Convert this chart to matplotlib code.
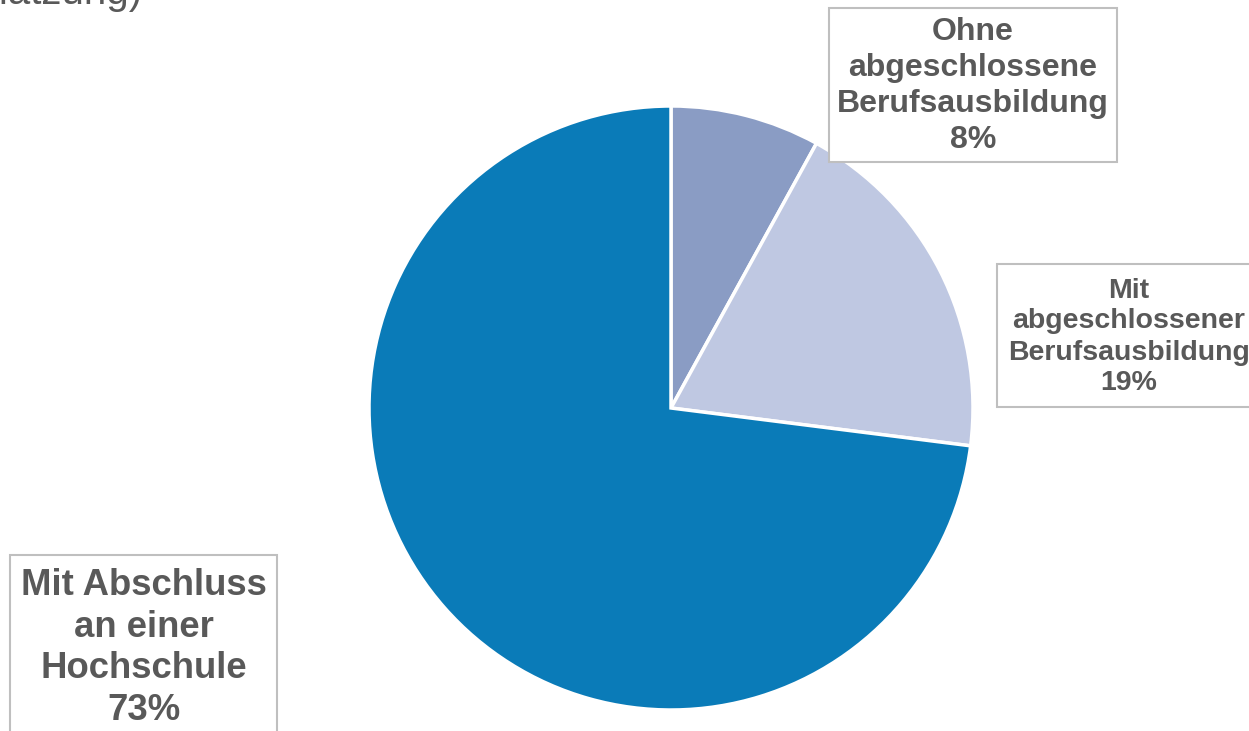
import matplotlib.pyplot as plt
from matplotlib.patches import Rectangle

plt.rcParams['font.family'] = ['Liberation Sans', 'DejaVu Sans']

# Beschaeftigte nach Berufsabschluss (Anteile in %)
categories = ['Ohne\nabgeschlossene\nBerufsausbildung',
              'Mit\nabgeschlossener\nBerufsausbildung',
              'Mit Abschluss\nan einer\nHochschule']
shares = [8, 19, 73]
colors = ['#8A9CC4', '#BFC8E2', '#0A7BB8']
text_color = '#595959'

W, H = 1249, 731
fig = plt.figure(figsize=(W / 100, H / 100), dpi=100)
ax = fig.add_axes([0, 0, 1, 1])

# pie in pixel coordinates (y up)
cx, cy, r = 671, H - 408, 302
ax.pie(shares, colors=colors, startangle=90, counterclock=False,
       center=(cx, cy), radius=r, explode=[0.012, 0.004, 0],
       wedgeprops=dict(edgecolor='white', linewidth=2.5))
ax.set_xlim(0, W)
ax.set_ylim(0, H)
ax.set_aspect('equal')
ax.axis('off')

# label boxes: (x0, y0_top, x1, y1_bottom), text centre, font size
boxes = [
    ((829, 8, 1117, 162), (973, 86), 23),
    ((997, 264, 1262, 407), (1129, 337), 20.5),
    ((10, 555, 277, 745), (144, 648), 26.3),
]
for (cat, val), (rect, (tx, ty), fs) in zip(zip(categories, shares), boxes):
    x0, y0, x1, y1 = rect
    ax.add_patch(Rectangle((x0, H - y1), x1 - x0, y1 - y0, facecolor='white',
                           edgecolor='#BFBFBF', linewidth=1.5, clip_on=False))
    ax.text(tx, H - ty, f'{cat}\n{val}%', ha='center', va='center',
            fontsize=fs, fontweight='bold', color=text_color,
            linespacing=1.25)

# title fragment, cut at the top edge as in the source
ax.text(143, H - 4, '(Schätzung)', ha='right', va='baseline',
        fontsize=29, color=text_color)

fig.savefig('out.png', dpi=100)
